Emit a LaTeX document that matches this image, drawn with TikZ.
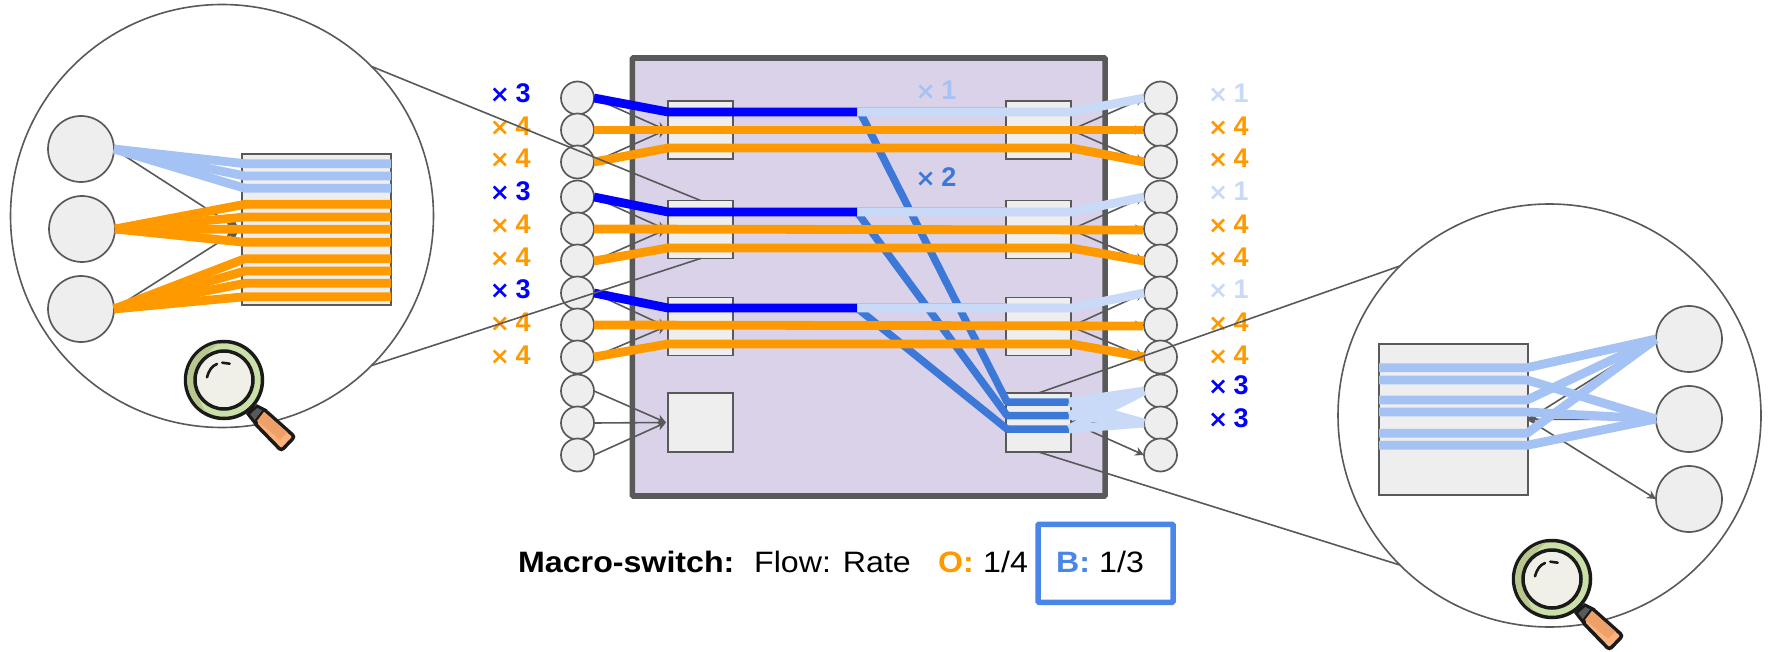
\documentclass[tikz,border=0pt]{standalone}
\usepackage{fontspec}
\setmainfont{Liberation Sans}
\newfontfamily\legendfont[FakeStretch=1.09]{Liberation Sans}
\newfontfamily\timesfont{DejaVu Sans}
\usetikzlibrary{arrows.meta}
\definecolor{gline}{HTML}{595959}
\definecolor{gfill}{HTML}{EEEEEE}
\definecolor{purp}{HTML}{D9D2E9}
\definecolor{orng}{HTML}{FF9900}
\definecolor{dblue}{HTML}{0000FF}
\definecolor{mblue}{HTML}{3C78D8}
\definecolor{lblue}{HTML}{C9DAF8}
\definecolor{pblue}{HTML}{A4C2F4}
\definecolor{edgeb}{HTML}{A9B0F6}
\definecolor{boxb}{HTML}{4A86E8}
\definecolor{inkk}{HTML}{1A1A1A}
\definecolor{ringa}{HTML}{CBDFA8}
\definecolor{ringb}{HTML}{B7C78E}
\definecolor{lens}{HTML}{F0F0E8}
\definecolor{hnda}{HTML}{FBB27C}
\definecolor{hndb}{HTML}{EFA068}
\tikzset{
  x=1pt,y=-1pt,
  bigc/.style={circle,draw=gline,line width=1.6,fill=white,minimum size=423,inner sep=0,outer sep=0},
  bigd/.style={circle,draw=gline,line width=1.7,fill=gfill,minimum size=66,inner sep=0,outer sep=0},
  port/.style={circle,draw=gline,line width=1.7,fill=gfill,minimum size=33,inner sep=0,outer sep=0},
  sw/.style={rectangle,draw=gline,line width=1.6,fill=gfill,minimum width=65,minimum height=#1,inner sep=0,outer sep=0},
  bigsw/.style={rectangle,draw=gline,line width=1.7,fill=gfill,minimum width=149,minimum height=151,inner sep=0,outer sep=0},
  chassis/.style={rectangle,draw=gline,line width=5.6,fill=purp,rounded corners=1,minimum width=472.7,minimum height=438,inner sep=0,outer sep=0},
  arr/.style={draw=gline,line width=1.6,-{Stealth[length=9,width=9,inset=3]}},
  arrbig/.style={draw=gline,line width=1.6,-{Stealth[length=12,width=15,inset=2]}},
  zoomline/.style={draw=gline,line width=1.6},
  stripo/.style={draw=orng,line width=8.8,line join=bevel},
  stripd/.style={draw=dblue,line width=8.8,line join=bevel},
  stripl/.style={draw=lblue,line width=8.8,line join=bevel},
  stripm/.style={draw=mblue,line width=7.5,line join=bevel},
  stripp/.style={draw=pblue,line width=8.8,line join=bevel},
  rate/.style={font=\fontsize{27}{27}\selectfont\bfseries,anchor=base,inner sep=0},
  legend/.style={font=\legendfont\fontsize{29.5}{30}\selectfont,anchor=base west,inner sep=0,text=black},
  legendb/.style={font=\legendfont\fontsize{29.5}{30}\selectfont\bfseries,anchor=base west,inner sep=0},
}
\newcommand{\tms}{{\timesfont\fontsize{24}{27}\selectfont\bfseries ×}\kern5.5pt}
\newcommand{\magnifier}[2]{%
\begin{scope}[shift={(#1,#2)}]
  \draw[inkk,line width=3,fill=gline] (24,34) -- (33,26) -- (41,30) -- (31,43) -- cycle;
  \draw[inkk,line width=3.5,fill=hnda,rounded corners=3] (40.7,30) -- (70.7,56.7) -- (57.3,70.7) -- (30.7,43.3) -- cycle;
  \fill[hndb] (40,31.8) -- (63.5,52.5) -- (56,59.5) -- (33,41) -- cycle;
  \draw[inkk,line width=3.5,fill=ringa] (0,0) circle (38.5);
  \fill[ringb] (-5,-36.7) arc (262:120:37) .. controls (-32,12) and (-30,-20) .. (-5,-36.7);
  \draw[inkk,line width=3.5,fill=lens] (0,0) circle (29);
  \draw[inkk,line width=2.6,line cap=round] (-17,-2.7) .. controls (-15,-10) and (-12,-14) .. (-7,-16);
  \draw[inkk,line width=2.6,line cap=round] (-1.7,-17.3) -- (5.7,-16.3);
\end{scope}}
\begin{document}
\begin{tikzpicture}
\useasboundingbox (0,0) rectangle (1772,652);
\fill[white] (0,0) rectangle (1772,652);

% chassis
\node[chassis] (MS) at (868.7,277) {};

% big callout circles
\node[bigc] (BL) at (222,216) {};
\node[bigc] (BR) at (1549.5,415.5) {};

% switches
\foreach \n/\y in {1/130,2/229.5,3/326.5}{
  \node[sw=58] (SL\n) at (700.5,\y) {};
  \node[sw=58] (SR\n) at (1038.5,\y) {};
}
\node[sw=59] (SL4) at (700.5,422.5) {};
\node[sw=59] (SR4) at (1038.5,422.5) {};

% ports
\foreach \n/\y in {1/98,2/130,3/162,4/197,5/229,6/261,7/293,8/325,9/357,10/391,11/423,12/455}{
  \node[port] (PL\n) at (577.5,\y) {};
  \node[port] (PR\n) at (1160.5,\y) {};
}

% thin links into and out of the switches
\foreach \s/\a/\b/\c in {1/1/2/3,2/4/5/6,3/7/8/9,4/10/11/12}{
  \draw[arr] (PL\a.east) -- ([xshift=-2]SL\s.west);
  \draw[arr] (PL\b.east) -- ([xshift=-2]SL\s.west);
  \draw[arr] (PL\c.east) -- ([xshift=-2]SL\s.west);
  \draw[arr] (SR\s.east) -- (PR\a.west);
  \draw[arr] (SR\s.east) -- (PR\b.west);
  \draw[arr] (SR\s.east) -- (PR\c.west);
}

% waypoints of flows
\foreach \s/\yb/\ya/\yc in {1/112/130/148,2/212/230/248,3/308/326/344}{
  \coordinate (DI\s) at (668,\yb);
  \coordinate (DE\s) at (857,\yb);
  \coordinate (LE\s) at (1006,\yb);
  \coordinate (LX\s) at (1071,\yb);
  \coordinate (OI\s) at (668,\yc);
  \coordinate (OX\s) at (1071,\yc);
  \coordinate (OM\s) at (1143,\ya);
  \coordinate (OL\s) at (594,\ya);
}
\coordinate (MI1) at (1007,402);
\coordinate (MI2) at (1007,415.5);
\coordinate (MI3) at (1007,429);
\coordinate (MX1) at (1069,402);
\coordinate (MX2) at (1069,415.5);
\coordinate (MX3) at (1069,429);

% aggregated medium blue flows
\draw[stripm] ([xshift=3]DE1) -- (MI1) -- (MX1);
\draw[stripm] (DE2) -- (MI2) -- (MX2);
\draw[stripm] (DE3) -- (MI3) -- (MX3);

% light flows to the bottom switch ports
\foreach \s in {1,2,3}{
  \draw[stripl] (MX\s) -- (PR10.west);
  \draw[stripl] (MX\s) -- (PR11.west);
}

% per-switch flows
\foreach \s/\a/\b/\c in {1/1/2/3,2/4/5/6,3/7/8/9}{
  \draw[edgeb,line width=8.8] ([yshift=0.7]DE\s) -- ([yshift=0.7]LE\s);
  \draw[stripl] (DE\s) -- (LX\s) -- (PR\a.west);
  \draw[stripd] (PL\a.east) -- (DI\s) -- (DE\s);
  \draw[stripo] (PL\b.east) -- (OM\s);
  \draw[stripo] (PL\c.east) -- (OI\s) -- (OX\s) -- (PR\c.west);
}

% left callout
\node[bigd] (CL1) at (81,149) {};
\node[bigd] (CL2) at (82,229) {};
\node[bigd] (CL3) at (81,309) {};
\node[bigsw] (RL) at (316.5,229.5) {};
\draw[arrbig] (CL1.east) -- ([xshift=-3]RL.west);
\draw[arrbig] (CL2.east) -- ([xshift=-3]RL.west);
\draw[arrbig] (CL3.east) -- ([xshift=-3]RL.west);
\foreach \y in {163.7,176,188.3}{
  \coordinate (w) at (245,\y); \coordinate (v) at (391,\y);
  \draw[stripp] (CL1.east) -- (w) -- (v);
}
\foreach \y in {204.3,217,229.3,242.3}{
  \coordinate (w) at (245,\y); \coordinate (v) at (391,\y);
  \draw[stripo] (CL2.east) -- (w) -- (v);
}
\foreach \y in {258.7,271,283.3,296.7}{
  \coordinate (w) at (245,\y); \coordinate (v) at (391,\y);
  \draw[stripo] (CL3.east) -- (w) -- (v);
}

% right callout
\node[bigd] (CR1) at (1689,339) {};
\node[bigd] (CR2) at (1689,419) {};
\node[bigd] (CR3) at (1689,499) {};
\node[bigsw] (RR) at (1453.5,419.5) {};
\draw[arr] (CR1.west) -- (RR.east);
\draw[arr] (CR2.west) -- (RR.east);
\draw[arr] (RR.east) -- (CR3.west);
\foreach \y/\t in {367.7/CR1,380/CR2,400/CR1,412/CR2,433.3/CR1,445.3/CR2}{
  \coordinate (w) at (1379,\y); \coordinate (v) at (1527,\y);
  \draw[stripp] (w) -- (v) -- (\t.west);
}

% magnifiers
\magnifier{224}{380}
\magnifier{1552}{579}

% rate labels, left
\foreach \y/\t/\c in {93/3/dblue,126/4/orng,158/4/orng,191/3/dblue,224/4/orng,257/4/orng,289/3/dblue,322/4/orng,355/4/orng}{
  \node[rate,text=\c] at (510.3,\y+9.5) {\tms\t};
}
% rate labels, right
\foreach \y/\t/\c in {93/1/lblue,126/4/orng,158/4/orng,191/1/lblue,224/4/orng,257/4/orng,289/1/lblue,322/4/orng,355/4/orng,385/3/dblue,418/3/dblue}{
  \node[rate,text=\c] at (1228.3,\y+9.5) {\tms\t};
}
\node[rate,text=pblue] at (936,90+9.5) {\tms 1};
\node[rate,text=mblue] at (936,177+9.5) {\tms 2};

% zoom lines
\draw[zoomline] (BL.45) -- (SL2.north);
\draw[zoomline] (BL.-45) -- (SL2.south);
\draw[zoomline] (BR.135) -- (SR4.north);
\draw[zoomline] (BR.225) -- (SR4.south);

% legend
\node[legendb] (T1) at (518,572.5) {Macro-switch:};
\node[legend] (T2) at (754,572.5) {Flow: Rate};
\node[legendb,text=orng] (T3) at (938,572.5) {O:};
\node[legend] (T4) at (983,572.5) {1/4};
\node[draw=boxb,line width=5.5,rounded corners=1,minimum width=135,minimum height=78,inner sep=0] (T5) at (1105.5,563.3) {};
\node[legendb,text=boxb] (T6) at (1056,572.5) {B:};
\node[legend] (T7) at (1099,572.5) {1/3};
\end{tikzpicture}
\end{document}
